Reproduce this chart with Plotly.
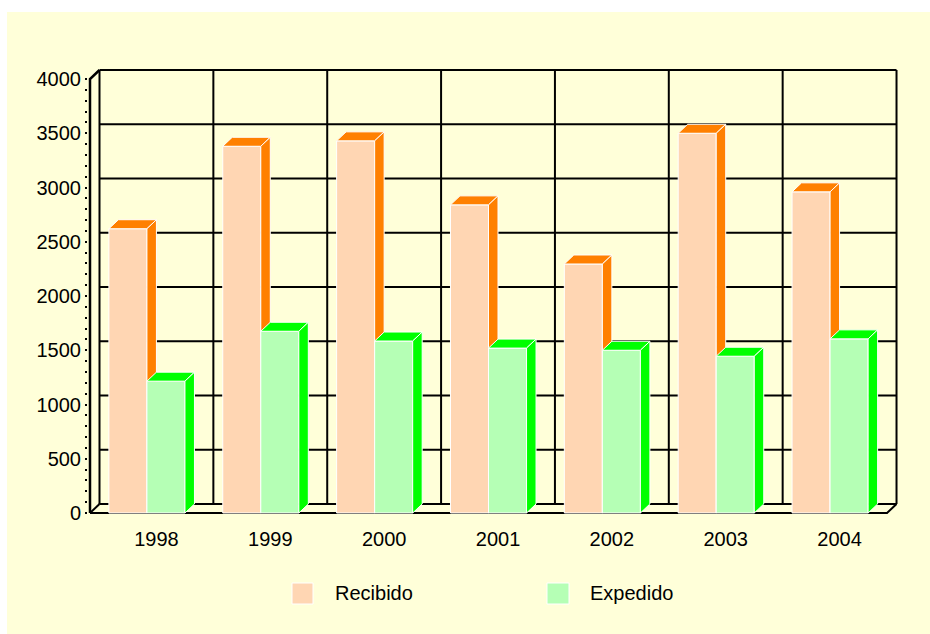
import plotly.graph_objects as go

# ---------------- data ----------------
years = ["1998", "1999", "2000", "2001", "2002", "2003", "2004"]
recibido = [2620, 3380, 3430, 2840, 2295, 3500, 2960]
expedido = [1215, 1675, 1585, 1520, 1500, 1445, 1605]
y_ticks = [0, 500, 1000, 1500, 2000, 2500, 3000, 3500, 4000]
y_minor = list(range(0, 4001, 100))
series_names = ["Recibido", "Expedido"]

# ---------------- style / geometry ----------------
W, H = 930, 634
BG = "#FFFFD9"
FRONT = ["#FFD6B3", "#B5FFB5"]
SIDE = ["#FF8000", "#00FF00"]
FONT = "Liberation Sans, Arial, sans-serif"
FS = 20

PXU = 113.86          # pixels per category
PYU = 0.1085          # pixels per value unit
X0PX, Y0PX = 90, 513  # pixel of (x=-0.5, y=0) on the front plane
PL, PR, PT, PB = 88, 900, 66, 520   # plot area

xr = [-0.5 - (X0PX - PL) / PXU, -0.5 + (PR - X0PX) / PXU]
yr = [(Y0PX - PB) / PYU, (Y0PX - PT) / PYU]
DXU = 9.5 / PXU       # depth offset in x units
DYU = 9.0 / PYU       # depth offset in y units
BW = 0.334            # bar width in category units
n = len(years)
ymax = y_ticks[-1]


def px2paper_x(px):
    return (px - PL) / (PR - PL)


def px2paper_y(py):
    return (PB - py) / (PB - PT)


fig = go.Figure()

# ---------------- walls / grid ----------------
gx, gy = [], []
for v in y_ticks:  # back-wall horizontal gridlines
    gx += [-0.5 + DXU, n - 0.5 + DXU, None]
    gy += [v + DYU, v + DYU, None]
for k in range(n + 1):  # back-wall vertical gridlines
    gx += [-0.5 + k + DXU, -0.5 + k + DXU, None]
    gy += [DYU, ymax + DYU, None]
# floor edges
gx += [-0.5, n - 0.5, n - 0.5 + DXU, None, -0.5, -0.5 + DXU, None]
gy += [0, 0, DYU, None, 0, DYU, None]
fig.add_trace(go.Scatter(x=gx, y=gy, mode="lines",
                         line=dict(color="black", width=2),
                         hoverinfo="skip", showlegend=False))
# front vertical axis with top diagonal
fig.add_trace(go.Scatter(x=[-0.5, -0.5, -0.5 + DXU], y=[0, ymax, ymax + DYU],
                         mode="lines", line=dict(color="black", width=2.5),
                         hoverinfo="skip", showlegend=False))

# ---------------- 3D bars ----------------
for s, vals in enumerate([recibido, expedido]):
    fx, fy, tx, ty, sx, sy = [], [], [], [], [], []
    for i, v in enumerate(vals):
        x0 = i - BW if s == 0 else i
        x1 = x0 + BW
        fx += [x0, x1, x1, x0, x0, None]
        fy += [0, 0, v, v, 0, None]
        tx += [x0, x1, x1 + DXU, x0 + DXU, x0, None]
        ty += [v, v, v + DYU, v + DYU, v, None]
        sx += [x1, x1 + DXU, x1 + DXU, x1, x1, None]
        sy += [0, DYU, v + DYU, v, 0, None]
    for xs, ys, col in [(fx, fy, FRONT[s]), (tx, ty, SIDE[s]), (sx, sy, SIDE[s])]:
        fig.add_trace(go.Scatter(x=xs, y=ys, mode="lines", fill="toself",
                                 fillcolor=col, line=dict(color="white", width=1),
                                 hoverinfo="skip", showlegend=False))

# ---------------- background + legend (manual) ----------------
shapes = [dict(type="rect", xref="paper", yref="paper", layer="below",
               x0=px2paper_x(7), x1=px2paper_x(W + 10),
               y0=px2paper_y(H + 10), y1=px2paper_y(12),
               fillcolor=BG, line=dict(width=0))]
annotations = []
leg_sq = [(292, 313), (547, 569)]
leg_tx = [333, 588]
for s in range(2):
    shapes.append(dict(type="rect", xref="paper", yref="paper",
                       x0=px2paper_x(leg_sq[s][0]), x1=px2paper_x(leg_sq[s][1]),
                       y0=px2paper_y(604), y1=px2paper_y(583),
                       fillcolor=FRONT[s], line=dict(color="white", width=1)))
    annotations.append(dict(xref="paper", yref="paper", x=px2paper_x(leg_tx[s]),
                            y=px2paper_y(593), xanchor="left", yanchor="middle",
                            text=series_names[s], showarrow=False,
                            font=dict(family=FONT, size=FS, color="black")))

fig.update_layout(
    width=W, height=H,
    margin=dict(l=PL, r=W - PR, t=PT, b=H - PB, pad=0),
    paper_bgcolor="white", plot_bgcolor="rgba(0,0,0,0)",
    showlegend=False,
    shapes=shapes, annotations=annotations,
    font=dict(family=FONT, size=FS, color="black"),
    xaxis=dict(range=xr, showgrid=False, zeroline=False, showline=False,
               tickmode="array", tickvals=[i + DXU for i in range(n)],
               ticktext=years, ticks="outside", ticklen=1, tickcolor="rgba(0,0,0,0)",
               tickfont=dict(size=FS)),
    yaxis=dict(range=yr, showgrid=False, zeroline=False, showline=False,
               tickmode="array", tickvals=y_ticks, ticktext=[str(t) for t in y_ticks],
               ticks="outside", ticklen=2, tickwidth=2, tickcolor="black",
               minor=dict(tickmode="array", tickvals=y_minor, ticks="outside",
                          ticklen=2, tickwidth=2, tickcolor="black"),
               tickfont=dict(size=FS)),
)

fig.write_html("out.html",
               config={"displayModeBar": False, "staticPlot": True},
               post_script="document.body.style.margin='0';"
                           "document.body.style.overflow='hidden';")
